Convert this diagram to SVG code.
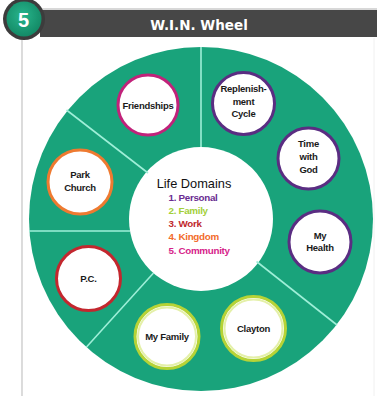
<svg xmlns="http://www.w3.org/2000/svg" width="377" height="398" viewBox="0 0 377 398">
<defs>
<style>
.nl{font-family:"Liberation Sans",Arial,sans-serif;font-weight:bold;font-size:9.5px;fill:#1a1a1a;text-anchor:middle;letter-spacing:-0.25px}
.node{fill:#ffffff;stroke-width:3}
.div{stroke:#9eefd8;stroke-width:1.6;fill:none}
.lg{font-family:"Liberation Sans",Arial,sans-serif;font-weight:bold;font-size:9.8px;letter-spacing:-0.3px}
.personal{stroke:#5a2d82}
.family{stroke:#b6d336}
.halo{fill:none;stroke:#e4f0a8;stroke-width:2}
.work{stroke:#c3272e}
.kingdom{stroke:#ee7a30}
.community{stroke:#c1227a}
</style>
<radialGradient id="badge" cx="0.45" cy="0.4" r="0.6">
<stop offset="0" stop-color="#28b58c"/>
<stop offset="1" stop-color="#138a66"/>
</radialGradient>
</defs>
<rect width="377" height="398" fill="#ffffff"/>
<line x1="22" y1="38" x2="22" y2="396" stroke="#c4c4c4" stroke-width="1.2"/>
<line x1="374" y1="38" x2="374" y2="396" stroke="#f0f0f0" stroke-width="1"/>
<g id="header">
<line x1="40" y1="9" x2="377" y2="9" stroke="#b0b0b0" stroke-width="1"/>
<rect x="40" y="10" width="337" height="27" fill="#474747"/>
<text x="199" y="30" font-family="'DejaVu Sans',sans-serif" font-weight="bold" font-size="13.5" fill="#ffffff" text-anchor="middle">W.I.N. Wheel</text>
<circle cx="24" cy="19" r="21" fill="#3c3c3c"/>
<circle cx="24" cy="19" r="17.5" fill="url(#badge)"/>
<text x="23.5" y="26.5" font-family="'Liberation Sans',Arial,sans-serif" font-weight="bold" font-size="20" fill="#ffffff" text-anchor="middle">5</text>
</g>
<g id="wheel">
<circle cx="201" cy="219" r="172" fill="#19a37b"/>
<circle cx="201" cy="219" r="72" fill="#ffffff"/>
</g>
<g id="connectors">
<line class="div" x1="201" y1="47" x2="201" y2="147"/>
<line class="div" x1="66.5" y1="110" x2="148" y2="173"/>
<line class="div" x1="29" y1="231" x2="130" y2="231"/>
<line class="div" x1="86.5" y1="347" x2="153.5" y2="273"/>
<line class="div" x1="256.5" y1="261.5" x2="337" y2="325"/>
</g>
<g id="center">
<text x="194" y="188" font-family="'Liberation Sans',Arial,sans-serif" font-size="12.8" fill="#111111" text-anchor="middle">Life Domains</text>
<text class="lg" x="168.5" y="200.7" fill="#6a2c91">1. Personal</text>
<text class="lg" x="168.5" y="213.5" fill="#a3cf3a">2. Family</text>
<text class="lg" x="168.5" y="226.5" fill="#c0282d">3. Work</text>
<text class="lg" x="168.5" y="240" fill="#f26b2a">4. Kingdom</text>
<text class="lg" x="168.5" y="254" fill="#d6238a">5. Community</text>
</g>
<g id="friendships">
<circle class="node community" cx="148" cy="105" r="30"/>
<text class="nl" x="148" y="108.5">Friendships</text>
</g>
<g id="park-church">
<circle class="node kingdom" cx="80" cy="182" r="32"/>
<text class="nl" x="80" y="177.5">Park</text>
<text class="nl" x="80" y="190.5">Church</text>
</g>
<g id="pc">
<circle class="node work" cx="88.5" cy="278.5" r="32"/>
<text class="nl" x="88.5" y="281.5">P.C.</text>
</g>
<g id="my-family">
<circle class="node family" cx="167" cy="336.5" r="32"/>
<circle class="halo" cx="167" cy="336.5" r="29"/>
<text class="nl" x="167" y="340">My Family</text>
</g>
<g id="clayton">
<circle class="node family" cx="253.5" cy="328.5" r="32"/>
<circle class="halo" cx="253.5" cy="328.5" r="29"/>
<text class="nl" x="253.5" y="332">Clayton</text>
</g>
<g id="my-health">
<circle class="node personal" cx="320" cy="242" r="31"/>
<text class="nl" x="320" y="238.5">My</text>
<text class="nl" x="320" y="250.5">Health</text>
</g>
<g id="time-with-god">
<circle class="node personal" cx="308.5" cy="158.5" r="30.5"/>
<text class="nl" x="308.5" y="147">Time</text>
<text class="nl" x="308.5" y="160">with</text>
<text class="nl" x="308.5" y="173">God</text>
</g>
<g id="replenishment-cycle">
<circle class="node personal" cx="243.5" cy="103.5" r="31"/>
<text class="nl" x="243.5" y="92">Replenish-</text>
<text class="nl" x="243.5" y="104.5">ment</text>
<text class="nl" x="243.5" y="117">Cycle</text>
</g>
</svg>
